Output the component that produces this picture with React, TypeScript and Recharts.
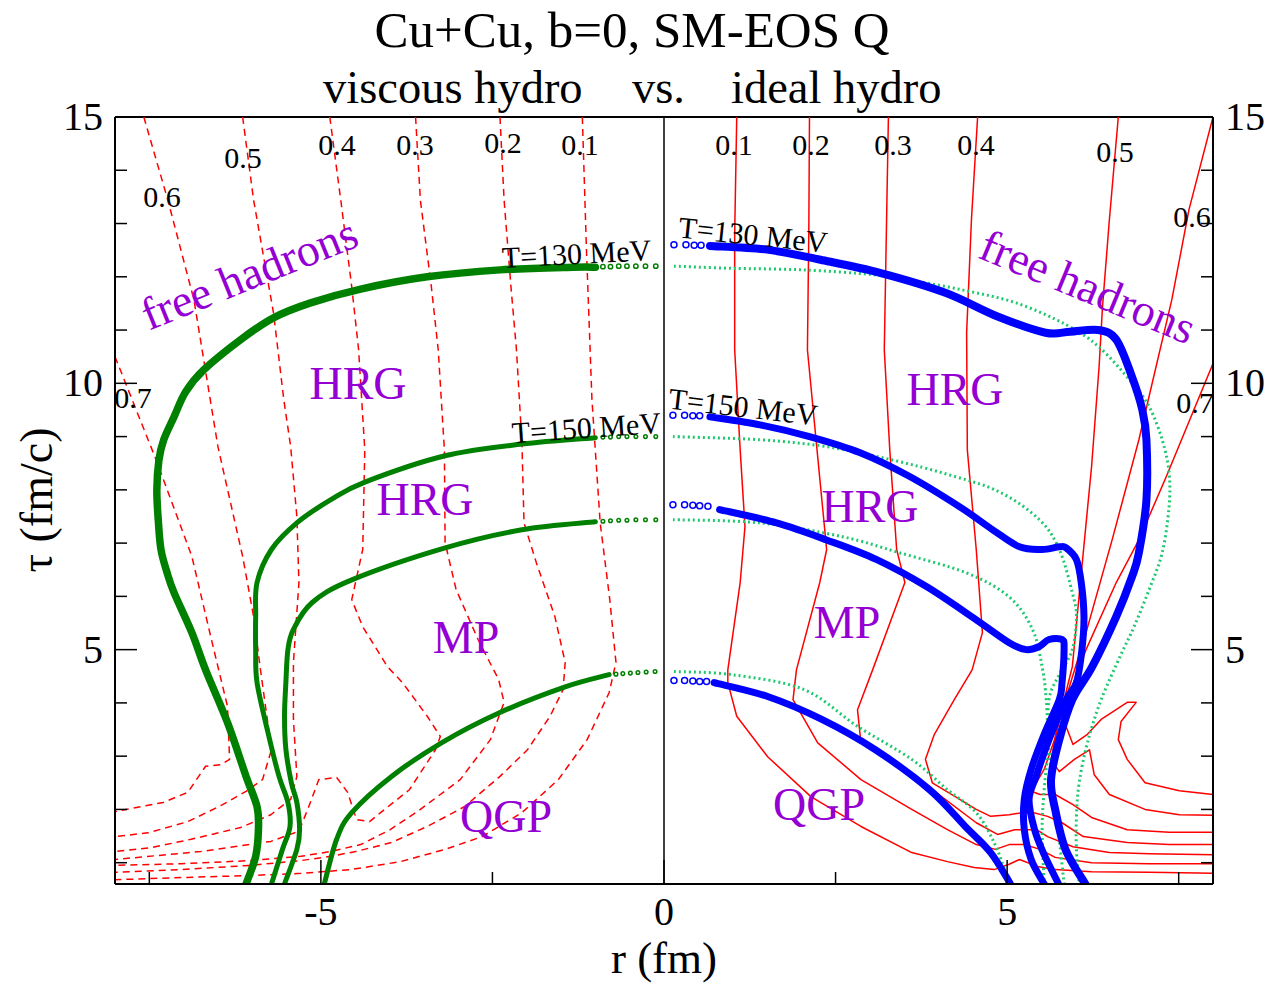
import React from 'react';
import { ComposedChart, Line, XAxis, YAxis, ReferenceLine } from 'recharts';

type P = [number, number];

// ---------- axes ----------
const X_DOMAIN: [number, number] = [-8, 8];
const Y_DOMAIN: [number, number] = [0.6, 15];
const xTicks = [-7.5, -5, -2.5, 0, 2.5, 5, 7.5];
const yTicks = [1, 2, 3, 4, 5, 6, 7, 8, 9, 10, 11, 12, 13, 14, 15];
const xMajor = [-5, 0, 5];
const yMajor = [5, 10, 15];

// ---------- viscous hydro (left, r<0): freeze-out / phase surfaces ----------
const viscT130: P[] = [[-1.0, 12.18], [-1.32, 12.18], [-2.39, 12.13], [-3.45, 12.0], [-4.42, 11.77], [-5.15, 11.51], [-5.69, 11.23], [-6.17, 10.82], [-6.71, 10.25], [-6.97, 9.84], [-7.14, 9.37], [-7.29, 8.94], [-7.36, 8.56], [-7.39, 8.0], [-7.37, 7.44], [-7.33, 6.88], [-7.24, 6.44], [-7.14, 6.07], [-6.88, 5.32], [-6.68, 4.62], [-6.36, 3.63], [-6.09, 2.62], [-5.93, 2.05], [-5.91, 1.62], [-5.95, 1.12], [-6.09, 0.6]];
const viscT130Dots: P[] = [[-0.12, 12.2], [-0.27, 12.2], [-0.41, 12.2], [-0.54, 12.2], [-0.66, 12.2], [-0.78, 12.19], [-0.89, 12.19]];
const viscT150: P[] = [[-1.0, 8.98], [-2.07, 8.86], [-3.19, 8.64], [-4.35, 8.15], [-4.86, 7.81], [-5.35, 7.38], [-5.72, 6.88], [-5.93, 6.26], [-5.95, 5.62], [-5.95, 5.0], [-5.93, 4.38], [-5.77, 3.44], [-5.61, 2.62], [-5.48, 2.13], [-5.45, 1.68], [-5.56, 1.25], [-5.72, 0.6]];
const viscT150Dots: P[] = [[-0.12, 9.0], [-0.27, 9.0], [-0.41, 9.0], [-0.54, 9.0], [-0.66, 9.0], [-0.78, 8.99], [-0.89, 8.99]];
const viscHrgMp: P[] = [[-1.0, 7.4], [-2.07, 7.25], [-3.19, 6.91], [-4.55, 6.31], [-5.13, 5.88], [-5.4, 5.38], [-5.48, 5.0], [-5.51, 4.38], [-5.53, 3.75], [-5.51, 3.13], [-5.43, 2.5], [-5.35, 2.13], [-5.31, 1.62], [-5.35, 1.25], [-5.53, 0.6]];
const viscHrgMpDots: P[] = [[-0.12, 7.44], [-0.27, 7.44], [-0.41, 7.44], [-0.54, 7.43], [-0.66, 7.43], [-0.78, 7.42], [-0.89, 7.41]];
const viscMpQgp: P[] = [[-0.8, 4.53], [-1.44, 4.3], [-2.39, 3.82], [-3.23, 3.26], [-3.97, 2.62], [-4.55, 1.94], [-4.77, 1.44], [-4.95, 0.6]];
const viscMpQgpDots: P[] = [[-0.13, 4.59], [-0.26, 4.58], [-0.38, 4.57], [-0.49, 4.56], [-0.6, 4.55], [-0.7, 4.54]];

// ---------- ideal hydro (right, r>0): blue surfaces ----------
const idealT130: P[] = [[0.67, 12.58], [1.5, 12.51], [2.28, 12.32], [3.16, 12.07], [4.1, 11.7], [4.87, 11.25], [5.56, 10.95], [5.92, 10.97], [6.33, 11.0], [6.59, 10.82], [6.82, 10.12], [6.97, 9.5], [7.03, 8.94], [7.03, 7.81], [6.92, 6.82], [6.82, 6.37], [6.59, 5.62], [6.24, 4.68], [5.95, 4.06], [5.76, 3.31], [5.64, 2.56], [5.7, 2.0], [5.85, 1.25], [6.14, 0.6]];
const idealT130Dots: P[] = [[0.145, 12.6], [0.32, 12.6], [0.44, 12.59], [0.54, 12.59]];
const idealT150: P[] = [[0.67, 9.37], [1.4, 9.22], [2.12, 9.0], [2.85, 8.7], [3.58, 8.25], [4.31, 7.68], [4.79, 7.25], [5.18, 6.93], [5.51, 6.88], [5.76, 6.93], [5.86, 6.91], [6.01, 6.69], [6.08, 6.26], [6.12, 5.62], [6.09, 5.0], [6.01, 4.38], [5.86, 4.06], [5.61, 3.31], [5.43, 2.65], [5.32, 2.19], [5.4, 1.62], [5.54, 1.15], [5.75, 0.6]];
const idealT150Dots: P[] = [[0.13, 9.4], [0.3, 9.4], [0.42, 9.39], [0.52, 9.39]];
const idealHrgMp: P[] = [[0.81, 7.63], [1.64, 7.38], [2.37, 7.06], [3.1, 6.69], [3.83, 6.18], [4.55, 5.56], [5.03, 5.13], [5.28, 5.0], [5.47, 5.06], [5.61, 5.19], [5.8, 5.19], [5.83, 5.0], [5.8, 4.38], [5.76, 4.06], [5.54, 3.41], [5.35, 2.75], [5.25, 2.19], [5.25, 1.62], [5.35, 1.06], [5.54, 0.6]];
const idealHrgMpDots: P[] = [[0.13, 7.72], [0.3, 7.72], [0.42, 7.71], [0.52, 7.7], [0.64, 7.69]];
const idealMpQgp: P[] = [[0.73, 4.38], [1.51, 4.12], [2.3, 3.69], [3.08, 3.12], [3.87, 2.37], [4.39, 1.68], [4.76, 1.19], [5.05, 0.6]];
const idealMpQgpDots: P[] = [[0.145, 4.42], [0.3, 4.42], [0.42, 4.41], [0.52, 4.4], [0.62, 4.4]];

// ---------- viscous surfaces mirrored for comparison (light green, r>0) ----------
const cmpT130: P[] = [[0.145, 12.2], [0.97, 12.16], [2.02, 12.13], [3.05, 12.04], [3.58, 11.94], [4.36, 11.75], [5.13, 11.51], [5.86, 11.1], [6.34, 10.68], [6.82, 10.01], [7.07, 9.56], [7.26, 8.94], [7.36, 8.32], [7.36, 7.68], [7.26, 6.82], [7.07, 6.13], [6.85, 5.43], [6.66, 4.91], [6.37, 4.06], [6.17, 3.25], [6.05, 2.5], [6.01, 1.87], [6.01, 1.25], [6.05, 0.6]];
const cmpT150: P[] = [[0.13, 9.0], [1.4, 8.94], [2.37, 8.81], [3.33, 8.56], [4.16, 8.28], [4.89, 7.96], [5.47, 7.44], [5.76, 6.88], [5.95, 6.07], [6.01, 5.62], [5.95, 5.0], [5.76, 4.53], [5.61, 4.06], [5.59, 3.12], [5.54, 2.37], [5.51, 1.62], [5.54, 0.6]];
const cmpHrgMp: P[] = [[0.13, 7.44], [1.4, 7.38], [2.6, 7.12], [3.43, 6.82], [4.41, 6.44], [5.03, 5.99], [5.37, 5.38], [5.51, 4.68], [5.57, 4.06], [5.61, 3.12], [5.69, 2.19], [5.76, 1.44], [5.83, 0.6]];
const cmpMpQgp: P[] = [[0.145, 4.59], [0.99, 4.53], [2.04, 4.25], [2.82, 3.56], [3.61, 2.94], [4.13, 2.37], [4.55, 1.94], [4.81, 1.38], [4.96, 0.87], [5.0, 0.6]];

// ---------- flow velocity contours, viscous (left, dashed) ----------
const visc01: P[] = [[-1.19, 15], [-1.13, 12.51], [-1.05, 9.69], [-0.93, 7.38], [-0.79, 5.94], [-0.7, 4.76], [-0.8, 4.19], [-1.12, 3.31], [-1.54, 2.56], [-2.07, 1.94], [-2.65, 1.49], [-3.19, 1.25], [-3.84, 1.02], [-4.57, 0.87], [-5.29, 0.8], [-6.02, 0.76], [-7.04, 0.72], [-8, 0.68]];
const visc02: P[] = [[-2.39, 15], [-2.33, 13.44], [-2.23, 11.81], [-2.15, 10.63], [-2.07, 8.88], [-2.04, 7.38], [-1.86, 6.63], [-1.59, 5.62], [-1.44, 4.76], [-1.47, 4.25], [-1.66, 3.75], [-1.99, 3.12], [-2.39, 2.62], [-2.91, 2.05], [-3.45, 1.68], [-3.97, 1.38], [-4.49, 1.21], [-4.86, 1.12], [-5.29, 1.04], [-6.02, 0.95], [-7.04, 0.87], [-8, 0.82]];
const visc03: P[] = [[-3.62, 15], [-3.55, 13.44], [-3.39, 11.81], [-3.29, 10.63], [-3.2, 8.75], [-3.19, 7.01], [-3.03, 6.13], [-2.71, 5.19], [-2.41, 4.44], [-2.33, 4.01], [-2.53, 3.31], [-2.97, 2.56], [-3.55, 2.0], [-3.99, 1.62], [-4.42, 1.34], [-4.86, 1.21], [-5.29, 1.12], [-6.02, 1.04], [-7.04, 0.98], [-8, 0.95]];
const visc04: P[] = [[-4.87, 15], [-4.71, 13.44], [-4.55, 11.81], [-4.45, 10.63], [-4.36, 8.75], [-4.39, 6.88], [-4.55, 5.94], [-4.39, 5.43], [-4.03, 4.68], [-3.81, 4.38], [-3.45, 3.75], [-3.26, 3.37], [-3.33, 3.12], [-3.71, 2.37], [-4.13, 1.94], [-4.29, 1.77], [-4.48, 1.81], [-4.61, 2.32], [-4.77, 2.6], [-5.03, 2.56], [-5.18, 2.04], [-5.32, 1.59], [-5.73, 1.4], [-6.75, 1.21], [-8, 1.06]];
const visc05: P[] = [[-6.14, 15], [-5.98, 13.44], [-5.69, 11.32], [-5.54, 9.69], [-5.44, 8.81], [-5.35, 7.5], [-5.32, 6.26], [-5.4, 4.76], [-5.4, 3.69], [-5.35, 2.62], [-5.44, 2.19], [-5.73, 1.9], [-6.17, 1.66], [-6.89, 1.44], [-7.48, 1.28], [-8, 1.21]];
const visc06: P[] = [[-7.58, 15], [-7.23, 13.44], [-6.85, 11.57], [-6.5, 8.81], [-6.14, 6.75], [-5.98, 5.62], [-5.88, 4.62], [-5.72, 3.12], [-5.85, 2.56], [-6.09, 2.34], [-6.46, 2.07], [-6.94, 1.77], [-7.52, 1.56], [-8, 1.49]];
const visc07: P[] = [[-8, 10.5], [-7.4, 8.56], [-6.88, 6.75], [-6.56, 5.0], [-6.36, 3.93], [-6.33, 2.94], [-6.46, 2.84], [-6.68, 2.81], [-6.94, 2.32], [-7.3, 2.13], [-8, 1.96]];

// ---------- flow velocity contours, ideal (right, solid) ----------
const ideal01: P[] = [[1.06, 15], [1.03, 12.82], [1.03, 10.63], [1.11, 8.75], [1.18, 7.31], [1.11, 6.26], [0.93, 4.62], [0.93, 4.38], [1.06, 3.75], [1.51, 2.99], [2.14, 2.24], [2.87, 1.68], [3.61, 1.19], [4.13, 1.02], [4.52, 0.91], [4.81, 0.87], [5.03, 0.97], [5.18, 1.06], [5.44, 0.93], [5.7, 0.87], [6.23, 0.83], [7.07, 0.82], [8, 0.8]];
const ideal02: P[] = [[2.12, 15], [2.11, 12.82], [2.09, 10.63], [2.23, 8.75], [2.37, 6.88], [2.27, 6.26], [1.93, 4.62], [1.88, 4.06], [2.24, 3.25], [2.87, 2.56], [3.61, 2.0], [4.13, 1.62], [4.55, 1.34], [4.83, 1.25], [5.03, 1.34], [5.25, 1.34], [5.48, 1.25], [5.7, 1.1], [6.23, 1.0], [7.07, 0.98], [8, 0.98]];
const ideal03: P[] = [[3.27, 15], [3.24, 12.82], [3.21, 10.63], [3.29, 8.75], [3.39, 6.88], [3.51, 6.26], [3.04, 4.62], [2.82, 3.87], [2.87, 3.25], [3.29, 2.94], [3.91, 2.37], [4.55, 1.75], [4.86, 1.53], [5.11, 1.62], [5.43, 1.62], [5.59, 1.49], [5.96, 1.3], [6.49, 1.19], [7.07, 1.17], [8, 1.15]];
const ideal04: P[] = [[4.57, 15], [4.48, 13.07], [4.41, 10.95], [4.42, 8.75], [4.55, 6.88], [4.64, 5.32], [4.49, 4.62], [4.23, 4.06], [3.94, 3.41], [3.81, 2.94], [3.91, 2.5], [4.31, 2.19], [4.55, 2.0], [4.76, 1.87], [5.03, 1.9], [5.32, 1.96], [5.59, 1.87], [5.8, 1.75], [6.11, 1.49], [6.75, 1.38], [7.36, 1.34], [8, 1.34]];
const ideal05: P[] = [[6.62, 15], [6.49, 13.07], [6.39, 11.44], [6.34, 10.31], [6.23, 8.43], [6.09, 6.56], [5.95, 4.68], [5.83, 4.06], [5.69, 3.31], [5.54, 2.75], [5.35, 2.34], [5.48, 2.28], [5.7, 2.28], [5.96, 2.09], [6.23, 1.85], [6.75, 1.62], [7.36, 1.57], [8, 1.57]];
const ideal06: P[] = [[8, 15], [7.65, 13.26], [7.4, 11.57], [6.92, 8.94], [6.53, 7.06], [6.15, 5.32], [5.94, 4.44], [5.76, 3.69], [5.64, 2.94], [5.76, 2.71], [5.98, 2.94], [6.2, 3.12], [6.27, 2.65], [6.49, 2.28], [7.01, 2.0], [7.51, 1.9], [8, 1.89]];
const ideal07: P[] = [[8, 10.37], [7.32, 8.25], [6.92, 7.06], [6.59, 6.26], [6.15, 5.0], [5.93, 4.25], [5.82, 3.69], [5.96, 3.22], [6.17, 3.41], [6.37, 3.69], [6.75, 4.01], [6.88, 4.01], [6.66, 3.65], [6.62, 3.31], [6.75, 2.94], [7.01, 2.5], [7.51, 2.35], [8, 2.28]];

const contourNames = ['0.1', '0.2', '0.3', '0.4', '0.5', '0.6', '0.7'];

// ---------- styles ----------
const SERIF = '"Liberation Serif", "Times New Roman", Times, serif';
const RED = '#ff0000';
const DKGREEN = '#008000';
const LTGREEN = '#1ec86e';
const BLUE = '#0000ff';
const PURPLE = '#9400d3';

const toPts = (a: P[]) => a.map(([x, y]) => ({ x, y }));

// Catmull-Rom style smooth curve for the library's line generator
function smoothCurve(context: any) {
  let pts: number[][] = [];
  return {
    areaStart() {},
    areaEnd() {},
    lineStart() {
      pts = [];
    },
    point(x: any, y: any) {
      pts.push([+x, +y]);
    },
    lineEnd() {
      const n = pts.length;
      if (n === 0) return;
      context.moveTo(pts[0][0], pts[0][1]);
      if (n === 1) {
        context.lineTo(pts[0][0], pts[0][1]);
        return;
      }
      for (let i = 0; i < n - 1; i++) {
        const p0 = pts[i === 0 ? 0 : i - 1];
        const p1 = pts[i];
        const p2 = pts[i + 1];
        const p3 = pts[i + 2 < n ? i + 2 : n - 1];
        context.bezierCurveTo(
          p1[0] + (p2[0] - p0[0]) / 6,
          p1[1] + (p2[1] - p0[1]) / 6,
          p2[0] - (p3[0] - p1[0]) / 6,
          p2[1] - (p3[1] - p1[1]) / 6,
          p2[0],
          p2[1]
        );
      }
    },
  };
}

interface Series {
  id: string;
  pts: P[];
  color: string;
  width: number;
  dash?: string;
  smooth?: boolean;
}

const lineSeries: Series[] = [
  ...[visc01, visc02, visc03, visc04, visc05, visc06, visc07].map((p, i) => ({ id: 'vc' + contourNames[i], pts: p, color: RED, width: 1.5, dash: '7 5' })),
  ...[ideal01, ideal02, ideal03, ideal04, ideal05, ideal06, ideal07].map((p, i) => ({ id: 'ic' + contourNames[i], pts: p, color: RED, width: 1.5 })),
  { id: 'cmpT130', pts: cmpT130, color: LTGREEN, width: 3, dash: '2 3', smooth: true },
  { id: 'cmpT150', pts: cmpT150, color: LTGREEN, width: 3, dash: '2 3', smooth: true },
  { id: 'cmpHrgMp', pts: cmpHrgMp, color: LTGREEN, width: 3, dash: '2 3', smooth: true },
  { id: 'cmpMpQgp', pts: cmpMpQgp, color: LTGREEN, width: 3, dash: '2 3', smooth: true },
  { id: 'idealT130', pts: idealT130, color: BLUE, width: 8, smooth: true },
  { id: 'idealT150', pts: idealT150, color: BLUE, width: 7, smooth: true },
  { id: 'idealHrgMp', pts: idealHrgMp, color: BLUE, width: 7, smooth: true },
  { id: 'idealMpQgp', pts: idealMpQgp, color: BLUE, width: 7, smooth: true },
  { id: 'viscT130', pts: viscT130, color: DKGREEN, width: 7.5, smooth: true },
  { id: 'viscT150', pts: viscT150, color: DKGREEN, width: 5, smooth: true },
  { id: 'viscHrgMp', pts: viscHrgMp, color: DKGREEN, width: 5, smooth: true },
  { id: 'viscMpQgp', pts: viscMpQgp, color: DKGREEN, width: 5, smooth: true },
];

const dotSeries: { id: string; pts: P[]; color: string; r: number }[] = [
  { id: 'dIdealT130', pts: idealT130Dots, color: BLUE, r: 3 },
  { id: 'dIdealT150', pts: idealT150Dots, color: BLUE, r: 3 },
  { id: 'dIdealHrgMp', pts: idealHrgMpDots, color: BLUE, r: 3 },
  { id: 'dIdealMpQgp', pts: idealMpQgpDots, color: BLUE, r: 3 },
  { id: 'dViscT130', pts: viscT130Dots, color: DKGREEN, r: 2.2 },
  { id: 'dViscT150', pts: viscT150Dots, color: DKGREEN, r: 1.8 },
  { id: 'dViscHrgMp', pts: viscHrgMpDots, color: DKGREEN, r: 1.8 },
  { id: 'dViscMpQgp', pts: viscMpQgpDots, color: DKGREEN, r: 1.8 },
];

// ---------- custom ticks (inward ticks, major labelled) ----------
const renderXTick = (props: any) => {
  const { x, y, payload } = props;
  const v = payload.value as number;
  const major = xMajor.includes(v);
  return (
    <g key={'xt' + v}>
      <line x1={x} x2={x} y1={y} y2={y - (major ? 24 : 12)} stroke="#000" strokeWidth={1.5} />
      {major && (
        <text x={x} y={y + 41} textAnchor="middle" fontFamily={SERIF} fontSize={40} fill="#000">
          {String(v)}
        </text>
      )}
    </g>
  );
};

const renderYTickLeft = (props: any) => {
  const { x, y, payload } = props;
  const v = payload.value as number;
  const major = yMajor.includes(v);
  return (
    <g key={'ylt' + v}>
      <line x1={x} x2={x + (major ? 22 : 12)} y1={y} y2={y} stroke="#000" strokeWidth={1.5} />
      {major && (
        <text x={x - 12} y={y + 13} textAnchor="end" fontFamily={SERIF} fontSize={40} fill="#000">
          {String(v)}
        </text>
      )}
    </g>
  );
};

const renderYTickRight = (props: any) => {
  const { x, y, payload } = props;
  const v = payload.value as number;
  const major = yMajor.includes(v);
  return (
    <g key={'yrt' + v}>
      <line x1={x} x2={x - (major ? 22 : 12)} y1={y} y2={y} stroke="#000" strokeWidth={1.5} />
      {major && (
        <text x={x + 12} y={y + 13} textAnchor="start" fontFamily={SERIF} fontSize={40} fill="#000">
          {String(v)}
        </text>
      )}
    </g>
  );
};

// ---------- text annotations (positions in page pixels) ----------
const contourLabelPos: { t: string; x: number; y: number }[] = [
  { t: contourNames[0], x: 580, y: 155 },
  { t: contourNames[1], x: 503, y: 153 },
  { t: contourNames[2], x: 415, y: 155 },
  { t: contourNames[3], x: 337, y: 155 },
  { t: contourNames[4], x: 243, y: 168 },
  { t: contourNames[5], x: 162, y: 207 },
  { t: contourNames[6], x: 133, y: 408 },
  { t: contourNames[0], x: 734, y: 155 },
  { t: contourNames[1], x: 811, y: 155 },
  { t: contourNames[2], x: 893, y: 155 },
  { t: contourNames[3], x: 976, y: 155 },
  { t: contourNames[4], x: 1115, y: 162 },
  { t: contourNames[5], x: 1192, y: 227 },
  { t: contourNames[6], x: 1195, y: 413 },
];

const phaseLabels: { t: string; x: number; y: number }[] = [
  { t: 'HRG', x: 358, y: 399 },
  { t: 'HRG', x: 425, y: 515 },
  { t: 'MP', x: 466, y: 653 },
  { t: 'QGP', x: 506, y: 832 },
  { t: 'HRG', x: 955, y: 405 },
  { t: 'HRG', x: 870, y: 522 },
  { t: 'MP', x: 847, y: 638 },
  { t: 'QGP', x: 819, y: 820 },
];

const tempLabels: { t: string; x: number; y: number; a: number }[] = [
  { t: 'T=130 MeV', x: 577, y: 264, a: -3 },
  { t: 'T=150 MeV', x: 587, y: 438, a: -4 },
  { t: 'T=130 MeV', x: 752, y: 245, a: 6 },
  { t: 'T=150 MeV', x: 742, y: 417, a: 6.5 },
];

export default function App() {
  return (
    <div style={{ position: 'absolute', left: 0, top: 0, width: 1276, height: 986, background: '#fff' }}>
      <ComposedChart width={1276} height={986} margin={{ top: 117, right: 3, bottom: 42, left: 55 }}>
        <XAxis
          xAxisId="x"
          dataKey="x"
          type="number"
          domain={X_DOMAIN}
          allowDataOverflow
          ticks={xTicks}
          interval={0}
          tickSize={0}
          tickMargin={0}
          tickLine={false}
          tick={renderXTick}
          axisLine={{ stroke: '#000', strokeWidth: 2 }}
          height={60}
        />
        <YAxis
          yAxisId="left"
          type="number"
          domain={Y_DOMAIN}
          allowDataOverflow
          ticks={yTicks}
          interval={0}
          tickSize={0}
          tickMargin={0}
          tickLine={false}
          tick={renderYTickLeft}
          axisLine={{ stroke: '#000', strokeWidth: 2 }}
          width={60}
        />
        <YAxis
          yAxisId="right"
          orientation="right"
          type="number"
          domain={Y_DOMAIN}
          allowDataOverflow
          ticks={yTicks}
          interval={0}
          tickSize={0}
          tickMargin={0}
          tickLine={false}
          tick={renderYTickRight}
          axisLine={{ stroke: '#000', strokeWidth: 2 }}
          width={60}
        />
        <ReferenceLine xAxisId="x" yAxisId="left" y={15} stroke="#000" strokeWidth={2} />
        <ReferenceLine xAxisId="x" yAxisId="left" x={0} stroke="#000" strokeWidth={1.5} />
        {lineSeries.map((s) => (
          <Line
            key={s.id}
            name={s.id}
            data={toPts(s.pts)}
            dataKey="y"
            xAxisId="x"
            yAxisId="left"
            type={(s.smooth ? smoothCurve : 'linear') as any}
            stroke={s.color}
            strokeWidth={s.width}
            strokeDasharray={s.dash}
            strokeLinejoin="round"
            strokeLinecap={s.dash ? 'butt' : 'round'}
            dot={false}
            activeDot={false}
            legendType="none"
            isAnimationActive={false}
          />
        ))}
        {dotSeries.map((s) => (
          <Line
            key={s.id}
            name={s.id}
            data={toPts(s.pts)}
            dataKey="y"
            xAxisId="x"
            yAxisId="left"
            stroke="none"
            strokeWidth={0}
            dot={{ r: s.r, stroke: s.color, strokeWidth: 1.5, fill: 'none' }}
            activeDot={false}
            legendType="none"
            isAnimationActive={false}
          />
        ))}
      </ComposedChart>
      <svg
        width={1276}
        height={986}
        style={{ position: 'absolute', left: 0, top: 0, pointerEvents: 'none' }}
        fontFamily={SERIF}
      >
        <text x={632} y={47} textAnchor="middle" fontSize={51} fill="#000">
          Cu+Cu, b=0, SM-EOS Q
        </text>
        <text x={323} y={103} fontSize={46.5} fill="#000">viscous hydro</text>
        <text x={632} y={103} fontSize={46.5} fill="#000">vs.</text>
        <text x={731} y={103} fontSize={46.5} fill="#000">ideal hydro</text>
        <text x={664} y={973} textAnchor="middle" fontSize={45} fill="#000">r (fm)</text>
        <text transform="translate(52,500) rotate(-90)" textAnchor="middle" fontSize={46} fill="#000">
          τ (fm/c)
        </text>
        {contourLabelPos.map((l, i) => (
          <text key={'cl' + i} x={l.x} y={l.y} textAnchor="middle" fontSize={30} fill="#000">
            {l.t}
          </text>
        ))}
        {phaseLabels.map((l, i) => (
          <text key={'pl' + i} x={l.x} y={l.y} textAnchor="middle" fontSize={46} fill={PURPLE}>
            {l.t}
          </text>
        ))}
        <text transform="translate(255,288) rotate(-22)" textAnchor="middle" fontSize={46} fill={PURPLE}>
          free hadrons
        </text>
        <text transform="translate(1082,301) rotate(22.5)" textAnchor="middle" fontSize={46} fill={PURPLE}>
          free hadrons
        </text>
        {tempLabels.map((l, i) => (
          <text
            key={'tl' + i}
            transform={`translate(${l.x},${l.y}) rotate(${l.a})`}
            textAnchor="middle"
            fontSize={30}
            fill="#000"
          >
            {l.t}
          </text>
        ))}
      </svg>
    </div>
  );
}
